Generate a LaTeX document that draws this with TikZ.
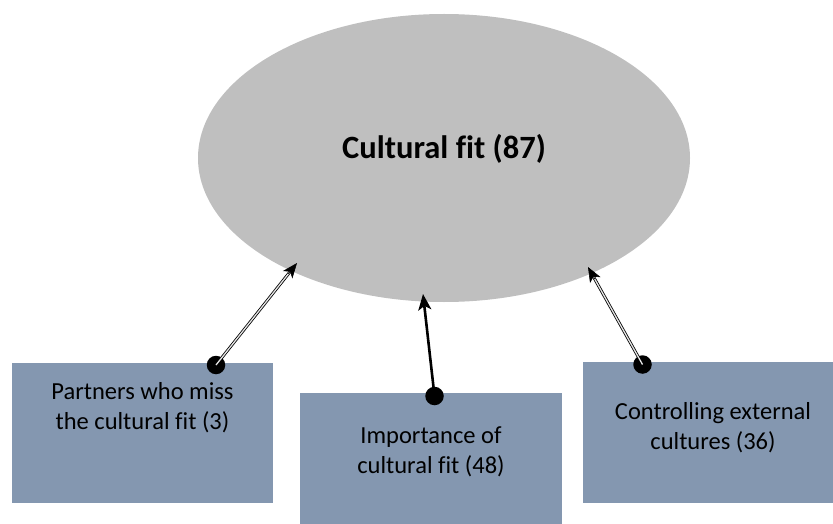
\documentclass[tikz,border=0pt]{standalone}
\usepackage{fontspec}
\setmainfont{Carlito}[Ligatures=NoCommon]
\usetikzlibrary{arrows.meta,calc,shapes.geometric}
\definecolor{ovalgray}{HTML}{BFBFBF}
\definecolor{boxblue}{HTML}{8497B0}
\begin{document}
\begin{tikzpicture}[x=1pt,y=-1pt,
  themebox/.style={fill=boxblue,draw=none,inner sep=0pt},
  boxtext/.style={align=center,font=\fontsize{24.5pt}{30pt}\selectfont,inner sep=0pt},
  pin/.style={circle,fill=black,inner sep=0pt,minimum size=18.5pt},
  dblshaft/.style={double=white!80!gray,double distance=1.3pt,line width=0.8pt},
  tiponly/.style={-{Stealth[length=15pt,width=12pt,inset=4pt]},line width=0.6pt},
  solidarrow/.style={line width=2.6pt,-{Stealth[length=16pt,width=13pt,inset=4pt]}}]
\useasboundingbox (0,0) rectangle (833,524);

% central theme
\node[ellipse,fill=ovalgray,minimum width=492pt,minimum height=288pt,inner sep=0pt] (core) at (444,158) {};
\node[font=\fontsize{32.5pt}{38pt}\selectfont\bfseries,inner sep=0pt] (coretext) at (444,149) {Cultural fit (87)};

% sub-themes
\path[themebox] (12,363) rectangle (273,503);
\node[boxtext] (t1) at (142.5,408) {Partners who miss\\the cultural fit (3)};
\path[themebox] (300,393) rectangle (562,524);
\node[boxtext] (t2) at (431,452) {Importance of\\cultural fit (48)};
\path[themebox] (583,362) rectangle (833,503);
\node[boxtext] (t3) at (713,428) {Controlling external\\cultures (36)};

% connectors
\node[pin] (p1) at (216,365) {};
\node[pin] (p2) at (434.5,396) {};
\node[pin] (p3) at (642.5,364.5) {};
\coordinate (h1) at (297,263);
\coordinate (h2) at (423,294);
\coordinate (h3) at (588,267);

\draw[dblshaft,shorten >=10pt] (p1.center) -- (h1);
\draw[tiponly] ($(h1)!14pt!(p1.center)$) -- (h1);
\draw[dblshaft,shorten >=10pt] (p3.center) -- (h3);
\draw[tiponly] ($(h3)!14pt!(p3.center)$) -- (h3);
\draw[solidarrow] (p2.center) -- (h2);
\end{tikzpicture}
\end{document}
